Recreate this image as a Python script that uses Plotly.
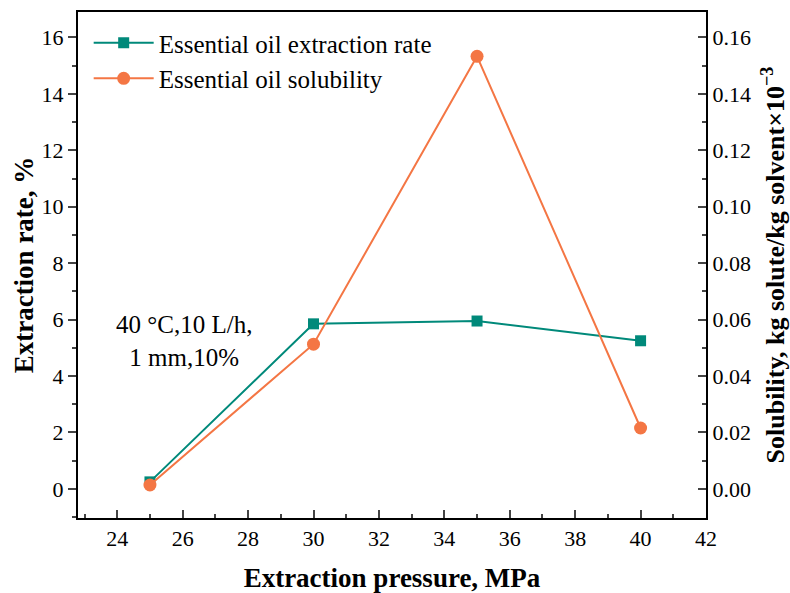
import plotly.graph_objects as go

pressure = [25, 30, 35, 40]
extraction_rate = [0.25, 5.85, 5.95, 5.25]
solubility = [0.0014, 0.0513, 0.1533, 0.0216]

green = "#00897A"
orange = "#F47644"
font = "Liberation Serif"

fig = go.Figure()
fig.add_trace(go.Scatter(x=pressure, y=extraction_rate, mode="lines+markers",
                         name="Essential oil extraction rate",
                         line=dict(color=green, width=2),
                         marker=dict(symbol="square", size=11, color=green)))
fig.add_trace(go.Scatter(x=pressure, y=solubility, mode="lines+markers",
                         name="Essential oil solubility", yaxis="y2",
                         line=dict(color=orange, width=2),
                         marker=dict(symbol="circle", size=13, color=orange)))

fig.update_layout(
    width=790, height=593,
    margin=dict(l=78, r=84, t=12, b=75),
    paper_bgcolor="white", plot_bgcolor="white",
    font=dict(family=font, size=22, color="black"),
    showlegend=True,
    legend=dict(x=0.017, y=0.984, xanchor="left", yanchor="top",
                font=dict(family=font, size=25), bgcolor="rgba(0,0,0,0)",
                tracegroupgap=0, itemwidth=60),
    xaxis=dict(range=[22.8, 42], dtick=2, tick0=24, ticks="inside", ticklen=8,
               tickwidth=1.5, showline=True, linewidth=2, linecolor="black",
               mirror=True, showgrid=False, zeroline=False, automargin=False,
               minor=dict(dtick=1, ticks="inside", ticklen=4, tickwidth=1.5),
               title=dict(text="<b>Extraction pressure, MPa</b>",
                          font=dict(family=font, size=27), standoff=18)),
    yaxis=dict(range=[-1.03, 16.9], dtick=2, tick0=0, ticks="outside", ticklen=8,
               tickwidth=1.5, showline=True, linewidth=2, linecolor="black",
               showgrid=False, zeroline=False, automargin=False,
               minor=dict(dtick=1, ticks="outside", ticklen=4, tickwidth=1.5),
               title=dict(text="<b>Extraction rate, %</b>",
                          font=dict(family=font, size=27), standoff=0)),
    yaxis2=dict(range=[-0.0103, 0.169], dtick=0.02, tick0=0, tickformat=".2f",
                overlaying="y", side="right", ticks="inside", ticklen=8,
                tickwidth=1.5, showline=True, linewidth=2, linecolor="black",
                showgrid=False, zeroline=False, automargin=False,
                minor=dict(dtick=0.01, ticks="inside", ticklen=4, tickwidth=1.5),
                title=dict(text="<b>Solubility, kg solute/kg solvent×10<sup>−3</sup></b>",
                           font=dict(family=font, size=26), standoff=16)),
    annotations=[dict(x=26.05, y=5.25, xref="x", yref="y",
                      text="40 °C,10 L/h,<br>1 mm,10%", showarrow=False,
                      font=dict(family=font, size=25), align="center")],
)

fig.write_html("out.html")
